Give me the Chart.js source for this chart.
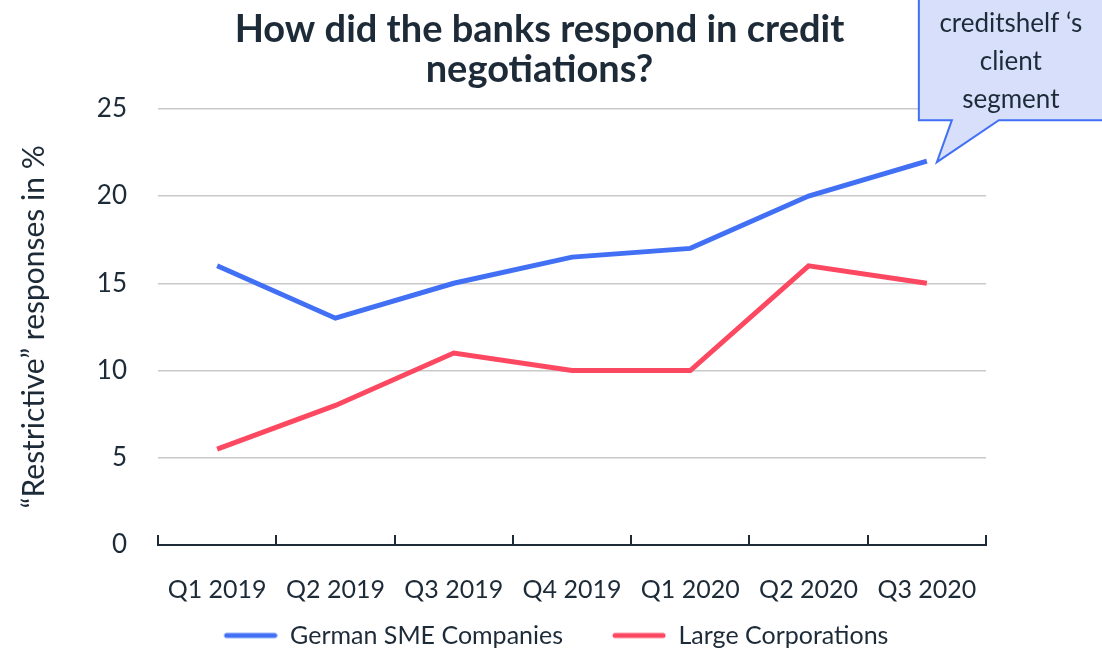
<!DOCTYPE html>
<html>
<head>
<meta charset="utf-8">
<script src="https://cdn.jsdelivr.net/npm/chart.js@4"></script>
<style>
  html, body { margin: 0; padding: 0; background: #fff; }
  #wrap { width: 1102px; height: 650px; }
</style>
</head>
<body>
<div id="wrap"><canvas id="myLineChart"></canvas></div>
<script>
const quarters = ["Q1 2019", "Q2 2019", "Q3 2019", "Q4 2019", "Q1 2020", "Q2 2020", "Q3 2020"];
const smeValues = [16, 13, 15, 16.5, 17, 20, 22];
const largeValues = [5.5, 8, 11, 10, 10, 16, 15];
const seriesNames = ["German SME Companies", "Large Corporations"];
const calloutLines = ["creditshelf \u2018s", "client", "segment"];

const dark = "#1d2b38";
const blue = "#4170f5";
const red = "#fd4862";
const font = "Lato, 'Open Sans', sans-serif";

// legend swatch: blank lead-in, then a short rounded line
function legendLine(color) {
    const c = document.createElement("canvas");
    c.width = 87;
    c.height = 8;
    const g = c.getContext("2d");
    g.strokeStyle = color;
    g.lineWidth = 5;
    g.lineCap = "round";
    g.beginPath();
    g.moveTo(36, 4);
    g.lineTo(84, 4);
    g.stroke();
    return c;
}

// upward ticks on the x axis, at the band edges
const xTicks = {
    id: "xTicks",
    afterDraw(chart) {
        const ctx = chart.ctx;
        const x = chart.scales.x;
        const y0 = chart.chartArea.bottom;
        ctx.save();
        ctx.strokeStyle = dark;
        ctx.lineWidth = 2;
        for (let i = 0; i <= quarters.length; i++) {
            const px = Math.round(x.getPixelForValue(i - 0.5));
            ctx.beginPath();
            ctx.moveTo(px, y0);
            ctx.lineTo(px, y0 - 10);
            ctx.stroke();
        }
        ctx.restore();
    }
};

// speech bubble pointing at the last SME point
const callout = {
    id: "callout",
    afterDraw(chart) {
        const meta = chart.getDatasetMeta(0);
        const pt = meta.data[meta.data.length - 1];
        const ctx = chart.ctx;
        const left = pt.x - 8, right = pt.x + 200, top = -3, bottom = pt.y - 41;
        const tipX = pt.x + 10, tipY = pt.y + 1;
        ctx.save();
        ctx.fillStyle = "#d7dffb";
        ctx.strokeStyle = blue;
        ctx.lineWidth = 2;
        ctx.beginPath();
        ctx.moveTo(left, top);
        ctx.lineTo(right, top);
        ctx.lineTo(right, bottom);
        ctx.lineTo(pt.x + 72, bottom);
        ctx.lineTo(tipX, tipY);
        ctx.lineTo(pt.x + 25, bottom);
        ctx.lineTo(left, bottom);
        ctx.closePath();
        ctx.fill();
        ctx.stroke();
        ctx.fillStyle = dark;
        ctx.font = "26px " + font;
        ctx.textAlign = "center";
        ctx.textBaseline = "middle";
        calloutLines.forEach((t, i) => ctx.fillText(t, pt.x + 84, 24 + i * 38));
        ctx.restore();
    }
};

new Chart(document.getElementById("myLineChart"), {
    type: "line",
    data: {
        labels: quarters,
        datasets: [{
            label: seriesNames[0],
            data: smeValues,
            borderColor: blue,
            backgroundColor: blue,
            borderWidth: 5,
            pointRadius: 0,
            pointStyle: legendLine(blue),
            tension: 0
        }, {
            label: seriesNames[1],
            data: largeValues,
            borderColor: red,
            backgroundColor: red,
            borderWidth: 5,
            pointRadius: 0,
            pointStyle: legendLine(red),
            tension: 0
        }]
    },
    options: {
        responsive: true,
        maintainAspectRatio: false,
        animation: false,
        layout: { padding: { left: 10, right: 33, top: 10, bottom: -8 } },
        plugins: {
            title: {
                display: true,
                text: ["How did the banks respond in credit", "negotiations?"],
                color: dark,
                font: { family: font, size: 38, weight: "bold", lineHeight: 1.05 },
                padding: { top: 0, bottom: 19 }
            },
            legend: {
                position: "bottom",
                labels: {
                    color: dark,
                    font: { family: font, size: 25 },
                    usePointStyle: true,
                    pointStyleWidth: 87,
                    padding: 16
                }
            },
            tooltip: { enabled: false }
        },
        scales: {
            x: {
                offset: true,
                grid: { display: false },
                border: { display: true, color: dark, width: 2 },
                ticks: {
                    color: dark,
                    font: { family: font, size: 25 },
                    padding: 22,
                    maxRotation: 0
                },
                afterFit(scale) { scale.height = 62; }
            },
            y: {
                min: 0,
                max: 25,
                ticks: {
                    stepSize: 5,
                    color: dark,
                    font: { family: font, size: 26 },
                    padding: 31
                },
                grid: {
                    color: ctx => ctx.tick.value === 0 ? "rgba(0,0,0,0)" : "#c9c9c9",
                    lineWidth: 1.5,
                    drawTicks: false
                },
                border: { display: false },
                title: {
                    display: true,
                    text: "\u201cRestrictive\u201d responses in %",
                    color: dark,
                    font: { family: font, size: 30 },
                    padding: { top: 6, bottom: 0 }
                },
                afterFit(scale) { scale.width = 148; }
            },
            // empty right-hand axis, keeps room for the callout
            yRight: {
                position: "right",
                display: true,
                grid: { display: false },
                border: { display: false },
                ticks: { display: false },
                afterFit(scale) { scale.width = 83; }
            }
        }
    },
    plugins: [xTicks, callout]
});
</script>
</body>
</html>
